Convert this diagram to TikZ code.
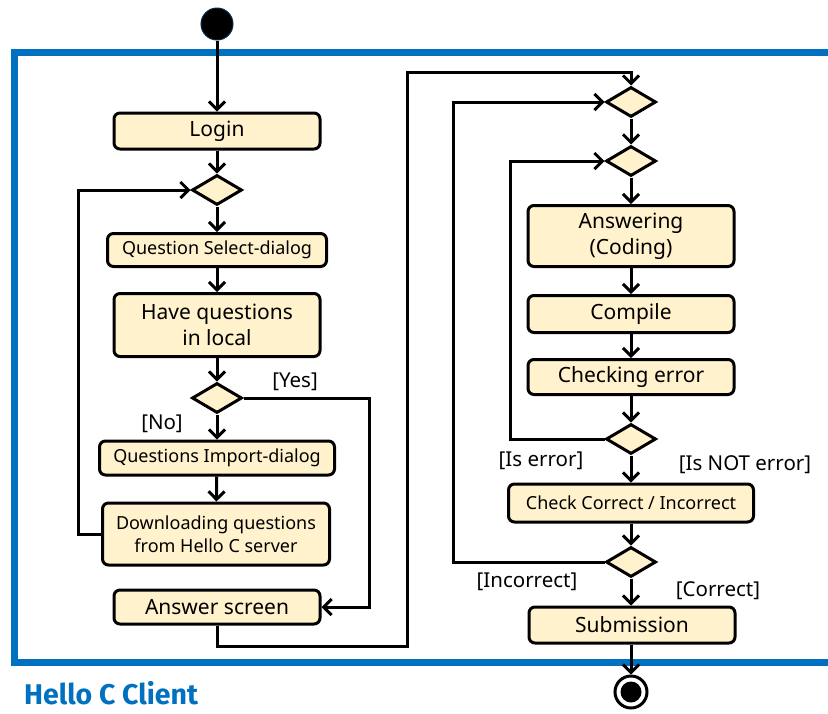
\documentclass[tikz,border=0pt]{standalone}
\usepackage{fontspec}
\setmainfont{Noto Sans}
\newfontfamily\lanefont{Fira Sans}
\usetikzlibrary{arrows.meta,shapes.geometric}

\definecolor{laneblue}{HTML}{0070C0}
\definecolor{actfill}{HTML}{FFF2CC}

\tikzset{
  act/.style={draw, line width=3pt, fill=actfill, rounded corners=6pt,
    align=center, inner sep=0pt, minimum width=206pt},
  big/.style={font=\fontsize{21}{26}\selectfont},
  small/.style={font=\fontsize{18}{23}\selectfont},
  branch/.style={draw, line width=3pt, fill=actfill, diamond,
    minimum width=50pt, minimum height=30pt, inner sep=0pt},
  guard/.style={font=\fontsize{20.5}{24}\selectfont, inner sep=0pt},
  flow/.style={line width=3pt, -{Straight Barb[length=8pt,width=16pt,line width=3pt]}},
}

\begin{document}
\begin{tikzpicture}[x=1pt, y=-1pt, line join=miter]
  \useasboundingbox (0,0) rectangle (828,713);

  % swimlane
  \draw[laneblue, line width=7pt] (828,52) -- (14,52) -- (14,662) -- (828,662);
  \node[anchor=west, text=laneblue, inner sep=0pt,
        font=\lanefont\bfseries\fontsize{28.5}{32}\selectfont] (lane) at (24,693) {Hello C Client};

  % start / end
  \node[circle, fill=black, draw=laneblue!40!black, line width=1pt,
        minimum size=32pt, inner sep=0pt] (start) at (217,24) {};
  \node[circle, draw=black, line width=3pt, fill=white,
        minimum size=32pt, inner sep=0pt] (stop) at (631,692) {};
  \fill (stop.center) circle (10.5pt);

  % left column
  \node[act, big, minimum height=36pt] (login) at (217,131) {Login};
  \node[branch] (d1) at (217,190) {};
  \node[act, small, minimum width=219pt, minimum height=33pt] (qsel) at (217,250) {Question Select-dialog};
  \node[act, big, minimum height=63pt] (haveq) at (217,325) {Have questions\\in local};
  \node[branch] (d2) at (217,398) {};
  \node[act, small, minimum width=235pt, minimum height=34pt] (qimp) at (217,458) {Questions Import-dialog};
  \node[act, small, minimum width=227pt, minimum height=62pt] (dl) at (216,534) {Downloading questions\\from Hello C server};
  \node[act, big, minimum height=34pt] (answer) at (217,607) {Answer screen};

  % right column
  \node[branch] (d3) at (631,102) {};
  \node[branch] (d4) at (631,161) {};
  \node[act, big, minimum height=61pt] (coding) at (631,236) {Answering\\(Coding)};
  \node[act, big, minimum height=37pt] (compile) at (631,314) {Compile};
  \node[act, big, minimum height=35pt] (check) at (631,377) {Checking error};
  \node[branch] (d5) at (631,439) {};
  \node[act, small, minimum width=245pt, minimum height=38pt] (judge) at (631,503) {Check Correct / Incorrect};
  \node[branch] (d6) at (631,562) {};
  \node[act, big, minimum height=36pt] (submit) at (632,625) {Submission};

  % guards
  \node[guard] (yes) at (295,382) {[Yes]};
  \node[guard] (no) at (162,424) {[No]};
  \node[guard] (iserr) at (541,461) {[Is error]};
  \node[guard] (noterr) at (745,465) {[Is NOT error]};
  \node[guard] (wrong) at (527,582) {[Incorrect]};
  \node[guard] (right) at (718,591) {[Correct]};

  \coordinate (up) at (407,72);

  % flows
  \draw[flow] (start) -- (login);
  \draw[flow] (login) -- (d1);
  \draw[flow] (d1) -- (qsel);
  \draw[flow] (qsel) -- (haveq);
  \draw[flow] (haveq) -- (d2);
  \draw[flow] (d2) -- (qimp);
  \draw[flow] (qimp) -- (dl);
  \draw[flow] (d2.east) -- ++(126,0) |- (answer.east);
  \draw[flow] (dl.west) -- ++(-23,0) |- (d1.west);
  \draw[flow] (answer.south) -- ++(0,21) -| (up) -| (d3.north);

  \draw[flow] (d3) -- (d4);
  \draw[flow] (d4) -- (coding);
  \draw[flow] (coding) -- (compile);
  \draw[flow] (compile) -- (check);
  \draw[flow] (check) -- (d5);
  \draw[flow] (d5) -- (judge);
  \draw[flow] (d5.west) -- ++(-94,0) |- (d4.west);
  \draw[flow] (judge) -- (d6);
  \draw[flow] (d6.west) -- ++(-151,0) |- (d3.west);
  \draw[flow] (d6) -- (d6 |- submit.north);
  \draw[flow] (submit.south -| stop) -- (stop);
\end{tikzpicture}
\end{document}
